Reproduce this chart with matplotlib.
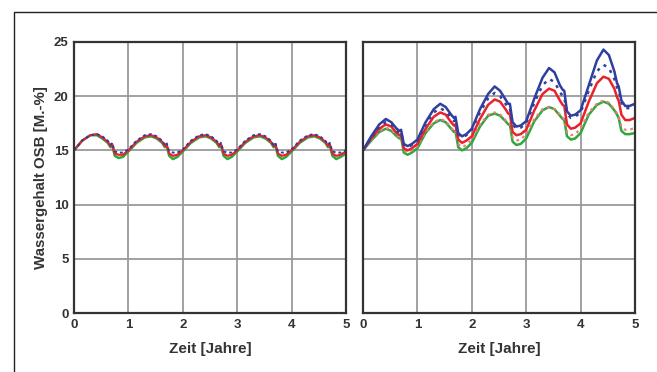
import matplotlib.pyplot as plt
from matplotlib.lines import Line2D

plt.rcParams['font.family'] = ['Liberation Sans', 'DejaVu Sans']

# time points: same positions within each year, plus the end point
offsets = [0.0, 0.15, 0.3, 0.42, 0.52, 0.62, 0.67, 0.7, 0.75, 0.82, 0.9]
t = [k + o for k in range(5) for o in offsets] + [5.0]

# left panel (Wassergehalt, stable)
left_blue = [15.0, 15.9, 16.4, 16.5, 16.3, 15.9, 15.5, 15.7, 14.9, 14.8, 14.8,
             15.1, 15.9, 16.4, 16.5, 16.3, 15.9, 15.5, 15.7, 14.9, 14.8, 14.8,
             15.1, 15.9, 16.4, 16.5, 16.3, 15.9, 15.5, 15.7, 14.9, 14.8, 14.8,
             15.1, 15.9, 16.4, 16.5, 16.3, 15.9, 15.5, 15.7, 14.9, 14.8, 14.8,
             15.1, 15.9, 16.4, 16.5, 16.3, 15.9, 15.5, 15.7, 14.9, 14.8, 14.8,
             15.0]
left_red = [15.0, 15.9, 16.4, 16.5, 16.2, 15.8, 15.4, 15.6, 14.7, 14.6, 14.6,
            15.0, 15.8, 16.3, 16.4, 16.2, 15.8, 15.4, 15.6, 14.7, 14.5, 14.6,
            15.0, 15.8, 16.3, 16.4, 16.2, 15.8, 15.4, 15.6, 14.7, 14.5, 14.6,
            15.0, 15.8, 16.3, 16.4, 16.2, 15.8, 15.4, 15.6, 14.7, 14.5, 14.6,
            15.0, 15.8, 16.3, 16.4, 16.2, 15.8, 15.4, 15.6, 14.7, 14.5, 14.6,
            14.9]
left_green = [15.0, 15.9, 16.4, 16.4, 16.1, 15.7, 15.3, 15.5, 14.5, 14.3, 14.4,
              14.9, 15.7, 16.2, 16.3, 16.1, 15.7, 15.3, 15.5, 14.5, 14.2, 14.4,
              14.9, 15.7, 16.2, 16.3, 16.1, 15.7, 15.3, 15.5, 14.5, 14.2, 14.4,
              14.9, 15.7, 16.2, 16.3, 16.1, 15.7, 15.3, 15.5, 14.5, 14.2, 14.4,
              14.9, 15.7, 16.2, 16.3, 16.1, 15.7, 15.3, 15.5, 14.5, 14.2, 14.4,
              14.7]

# right panel (Wassergehalt, rising)
right_blue = [15.0, 16.3, 17.4, 17.9, 17.6, 17.0, 16.8, 16.9, 15.6, 15.4, 15.6,
              16.0, 17.6, 18.8, 19.3, 19.0, 18.3, 18.0, 18.1, 16.6, 16.3, 16.5,
              17.0, 18.8, 20.2, 20.9, 20.5, 19.7, 19.3, 19.3, 17.6, 17.2, 17.3,
              17.7, 19.8, 21.7, 22.6, 22.2, 21.0, 20.6, 20.5, 18.6, 18.2, 18.3,
              18.7, 21.0, 23.3, 24.3, 23.8, 22.3, 21.2, 20.9, 19.6, 19.1, 19.1,
              19.3]
right_blue_dot = [15.0, 16.2, 17.2, 17.6, 17.4, 16.8, 16.6, 16.7, 15.5, 15.3, 15.5,
                  15.9, 17.4, 18.5, 18.9, 18.6, 18.0, 17.7, 17.8, 16.5, 16.2, 16.4,
                  16.9, 18.5, 19.8, 20.3, 20.0, 19.3, 18.9, 18.9, 17.4, 17.0, 17.1,
                  17.5, 19.4, 21.0, 21.6, 21.3, 20.4, 20.0, 19.9, 18.4, 18.0, 18.1,
                  18.5, 20.5, 22.3, 22.9, 22.6, 21.6, 20.8, 20.5, 19.4, 18.9, 18.9,
                  19.1]
right_red = [15.0, 16.1, 17.0, 17.4, 17.2, 16.6, 16.4, 16.5, 15.2, 15.0, 15.2,
             15.6, 17.0, 18.1, 18.5, 18.3, 17.6, 17.3, 17.4, 16.0, 15.7, 15.9,
             16.3, 17.9, 19.2, 19.7, 19.5, 18.8, 18.4, 18.4, 16.7, 16.4, 16.5,
             16.9, 18.7, 20.2, 20.7, 20.5, 19.6, 19.2, 19.1, 17.4, 17.0, 17.1,
             17.5, 19.5, 21.2, 21.8, 21.6, 20.7, 19.9, 19.6, 18.3, 17.8, 17.8,
             18.0]
right_red_dot = [15.0, 16.0, 16.8, 17.1, 16.9, 16.4, 16.2, 16.3, 15.0, 14.8, 15.0,
                 15.4, 16.7, 17.6, 17.9, 17.7, 17.1, 16.8, 16.9, 15.6, 15.3, 15.5,
                 16.0, 17.4, 18.3, 18.5, 18.3, 17.8, 17.5, 17.5, 16.2, 15.9, 16.0,
                 16.5, 17.9, 18.8, 19.0, 18.8, 18.3, 18.0, 17.9, 16.7, 16.4, 16.5,
                 17.0, 18.5, 19.3, 19.6, 19.4, 18.8, 18.4, 18.1, 17.2, 16.9, 16.9,
                 17.1]
right_green = [15.0, 15.9, 16.7, 17.0, 16.8, 16.3, 16.1, 16.2, 14.8, 14.6, 14.8,
               15.2, 16.6, 17.5, 17.8, 17.6, 17.0, 16.7, 16.8, 15.3, 15.0, 15.2,
               15.7, 17.2, 18.2, 18.4, 18.2, 17.7, 17.4, 17.4, 15.8, 15.5, 15.6,
               16.1, 17.7, 18.7, 19.0, 18.8, 18.2, 17.9, 17.8, 16.3, 16.0, 16.1,
               16.6, 18.3, 19.2, 19.5, 19.3, 18.7, 18.3, 18.0, 16.8, 16.5, 16.5,
               16.6]

x_ticks = [0, 1, 2, 3, 4, 5]
y_ticks = [0, 5, 10, 15, 20, 25]

BLUE = '#2e3f9e'
RED = '#e8232b'
PINK = '#f07a7e'
GREEN = '#2fa83c'
TXT = '#333333'

fig = plt.figure(figsize=(6.57, 3.72), dpi=100)

# outer frame (open to right and bottom)
fig.add_artist(Line2D([14 / 657, 14 / 657, 1.0], [0.0, 1 - 12 / 372, 1 - 12 / 372],
                      color='#222222', lw=1.0))

ax1 = fig.add_axes([74 / 657, 1 - 313 / 372, 272 / 657, 271 / 372])
ax2 = fig.add_axes([363 / 657, 1 - 313 / 372, 272 / 657, 271 / 372])

for ax in (ax1, ax2):
    ax.set_xlim(0, 5)
    ax.set_ylim(0, 25)
    ax.set_xticks(x_ticks)
    ax.set_yticks(y_ticks)
    ax.grid(True, color='#9a9a9a', lw=1.3)
    ax.set_axisbelow(True)
    ax.tick_params(length=0, labelsize=9.5, colors=TXT, pad=4)
    for lbl in ax.get_xticklabels() + ax.get_yticklabels():
        lbl.set_fontweight('bold')
    for s in ax.spines.values():
        s.set_color('#333333')
        s.set_linewidth(1.6)
    ax.set_xlabel('Zeit [Jahre]', fontsize=11, fontweight='bold', color=TXT, labelpad=8)

ax1.set_ylabel('Wassergehalt OSB [M.-%]', fontsize=10.8, fontweight='bold', color=TXT, labelpad=4)
ax2.tick_params(labelleft=False)

# left panel
ax1.plot(t, left_green, color=GREEN, lw=1.8)
ax1.plot(t, left_red, color=RED, lw=1.6)
ax1.plot(t, left_blue, color=BLUE, lw=1.4, ls=(0, (1.5, 1.5)))

# right panel
ax2.plot(t, right_green, color=GREEN, lw=1.8)
ax2.plot(t, right_red_dot, color=PINK, lw=1.6, ls=(0, (1.2, 1.8)))
ax2.plot(t, right_red, color=RED, lw=1.8)
ax2.plot(t, right_blue_dot, color=BLUE, lw=1.8, ls=(0, (1.2, 2.2)))
ax2.plot(t, right_blue, color=BLUE, lw=1.8)

fig.savefig('out.png', dpi=100)
